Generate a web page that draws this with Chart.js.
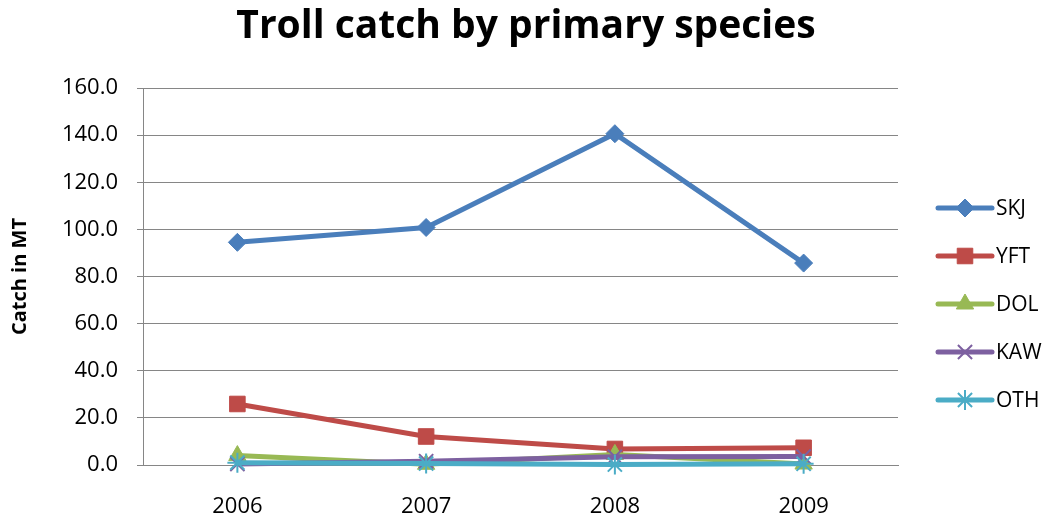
<!DOCTYPE html>
<html>
<head>
<meta charset="utf-8">
<script src="https://cdn.jsdelivr.net/npm/chart.js@4.4.1/dist/chart.umd.min.js"></script>
<style>
  html, body { margin: 0; padding: 0; background: #ffffff; }
  #wrap { width: 1052px; height: 522px; position: relative; }
</style>
</head>
<body>
<div id="wrap"><canvas id="chart" width="1052" height="522"></canvas></div>
<script>
// Troll catch (metric tonnes) by primary species, 2006-2009
const years = ['2006', '2007', '2008', '2009'];
const skj = [94.5, 100.8, 140.6, 85.7];
const yft = [25.9, 12.1, 6.8, 7.3];
const dol = [4.0, 0.3, 4.5, 0.4];
const kaw = [0.4, 1.6, 3.5, 3.6];
const oth = [1.0, 0.6, 0.2, 0.5];
const yTicks = [0, 20, 40, 60, 80, 100, 120, 140, 160];

const FONT = "'Open Sans', 'Liberation Sans', sans-serif";
const GRID = '#868686';

// later series are painted over earlier ones
function series(label, data, color, pointStyle, radius, order) {
  const thin = pointStyle === 'crossRot' || pointStyle === 'star';
  return {
    label, data, order,
    borderColor: color,
    backgroundColor: color,
    borderWidth: 5,
    pointStyle,
    pointRadius: radius,
    pointHoverRadius: radius,
    pointBorderWidth: thin ? 2 : 1,
    pointBorderColor: color,
    pointBackgroundColor: color,
    tension: 0,
    clip: false
  };
}

// Legend on the right: short line with the series marker in the middle
const sideLegend = {
  id: 'sideLegend',
  afterDraw(chart) {
    const ctx = chart.ctx;
    const x0 = 938, x1 = 992, top = 208, gap = 48;
    chart.data.datasets.forEach((ds, i) => {
      const y = top + i * gap;
      ctx.save();
      ctx.strokeStyle = ds.borderColor;
      ctx.lineWidth = 5;
      ctx.lineCap = 'round';
      ctx.beginPath();
      ctx.moveTo(x0, y);
      ctx.lineTo(x1, y);
      ctx.stroke();
      ctx.lineCap = 'butt';
      ctx.fillStyle = ds.pointBackgroundColor;
      ctx.strokeStyle = ds.pointBorderColor;
      ctx.lineWidth = ds.pointBorderWidth;
      Chart.helpers.drawPoint(ctx, {
        pointStyle: ds.pointStyle,
        rotation: 0,
        radius: ds.pointRadius,
        borderWidth: ds.pointBorderWidth
      }, (x0 + x1) / 2, y);
      ctx.fillStyle = '#000000';
      ctx.font = '21px ' + FONT;
      ctx.textBaseline = 'middle';
      ctx.textAlign = 'left';
      ctx.fillText(ds.label, x1 + 4, y + 1);
      ctx.restore();
    });
  }
};

new Chart(document.getElementById('chart'), {
  type: 'line',
  data: {
    labels: years,
    datasets: [
      series('SKJ', skj, '#4A7EBB', 'rectRot', 9, 4),
      series('YFT', yft, '#BE4B48', 'rect', 11, 3),
      series('DOL', dol, '#98B954', 'triangle', 10, 2),
      series('KAW', kaw, '#7D60A0', 'crossRot', 10, 1),
      series('OTH', oth, '#4BACC6', 'star', 10, 0)
    ]
  },
  options: {
    responsive: false,
    animation: false,
    events: [],
    layout: { padding: 0 },
    plugins: {
      legend: { display: false },
      tooltip: { enabled: false },
      title: {
        display: true,
        text: 'Troll catch by primary species',
        color: '#000000',
        font: { family: FONT, size: 39, weight: 'bold', lineHeight: 1.2 },
        padding: { top: 3, bottom: 38.2 }
      }
    },
    scales: {
      x: {
        offset: true,
        grid: { display: false },
        border: { display: true, color: GRID, width: 1 },
        ticks: {
          color: '#000000',
          font: { family: FONT, size: 22 },
          padding: 21,
          maxRotation: 0
        },
        afterFit(scale) { scale.height = 57; }
      },
      y: {
        min: 0,
        max: 160,
        afterBuildTicks(scale) { scale.ticks = yTicks.map(v => ({ value: v })); },
        grid: { color: GRID, lineWidth: 1, tickLength: 6, drawTicks: true },
        border: { display: true, color: GRID, width: 1 },
        ticks: {
          color: '#000000',
          font: { family: FONT, size: 22 },
          padding: 19,
          callback: v => Number(v).toFixed(1)
        },
        title: {
          display: true,
          text: 'Catch in MT',
          color: '#000000',
          font: { family: FONT, size: 20, weight: 'bold', lineHeight: 1.2 },
          padding: { top: 8, bottom: 0 }
        },
        afterFit(scale) { scale.width = 143; }
      },
      // empty right-hand band that holds the legend
      legendBand: {
        type: 'linear',
        position: 'right',
        display: true,
        grid: { display: false, drawTicks: false },
        border: { display: false },
        ticks: { display: false },
        afterFit(scale) { scale.width = 154; }
      }
    }
  },
  plugins: [sideLegend]
});
</script>
</body>
</html>
